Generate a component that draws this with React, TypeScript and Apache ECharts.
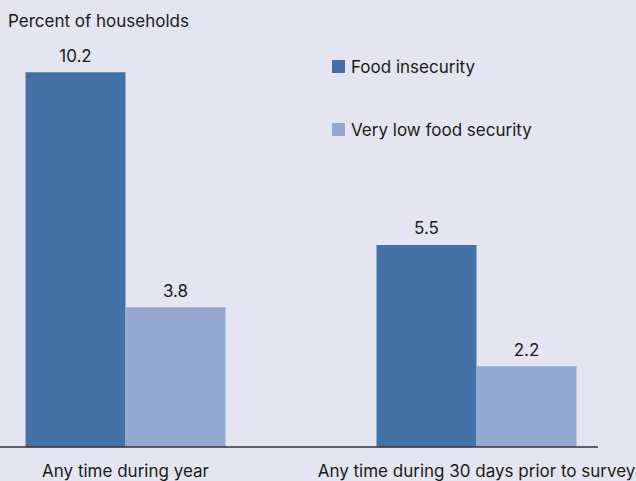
import React, { useEffect, useRef } from "react";
import * as echarts from "echarts";

const categories = ["Any time during year", "Any time during 30 days prior to survey"];
const foodInsecurity = [10.2, 5.5];
const veryLowFoodSecurity = [3.8, 2.2];
const seriesNames = ["Food insecurity", "Very low food security"];

const OX = 50;

export default function App() {
  const ref = useRef<HTMLDivElement>(null);
  useEffect(() => {
    if (!ref.current) return;
    const chart = echarts.init(ref.current, null, { renderer: "svg" });
    const font = "Inter, 'Noto Sans', sans-serif";
    const fs = 17;
    chart.setOption({
      animation: false,
      backgroundColor: "#e4e5f1",
      textStyle: { fontFamily: font },
      grid: { left: 0, width: 702, top: 6, bottom: 34, containLabel: false },
      legend: {
        orient: "vertical",
        left: 332 + OX,
        top: 58,
        padding: 0,
        itemWidth: 13,
        itemHeight: 13,
        itemGap: 46,
        icon: "rect",
        textStyle: { fontSize: fs, color: "#1a1a1a", fontFamily: font, padding: [0, 0, 0, 1] },
        data: seriesNames,
      },
      graphic: [
        {
          type: "text",
          left: 8 + OX,
          top: 12,
          style: { text: "Percent of households", fontSize: fs, fill: "#1a1a1a", fontFamily: font },
        },
        {
          type: "line",
          shape: { x1: OX, y1: 447, x2: 598 + OX, y2: 447 },
          style: { stroke: "#333333", lineWidth: 1.5 },
          z: 10,
        },
      ],
      xAxis: {
        type: "category",
        data: categories,
        axisLine: { show: false },
        axisTick: { show: false },
        axisLabel: { fontSize: fs, color: "#1a1a1a", margin: 15, fontFamily: font, interval: 0 },
      },
      yAxis: {
        type: "value",
        min: 0,
        max: 12,
        show: false,
        splitLine: { show: false },
      },
      series: [
        {
          name: seriesNames[0],
          type: "bar",
          data: foodInsecurity,
          barWidth: 100,
          barGap: "0%",
          itemStyle: { color: "#4472a6" },
          label: { show: true, position: "top", distance: 8, fontSize: fs, color: "#1a1a1a", fontFamily: font },
        },
        {
          name: seriesNames[1],
          type: "bar",
          data: veryLowFoodSecurity,
          barWidth: 100,
          barGap: "0%",
          itemStyle: { color: "#95a9d0" },
          label: { show: true, position: "top", distance: 8, fontSize: fs, color: "#1a1a1a", fontFamily: font },
        },
      ],
    });
    return () => chart.dispose();
  }, []);
  return (
    <div
      ref={ref}
      style={{ position: "fixed", left: -OX, top: 0, width: 702 + OX, height: 481 }}
    />
  );
}
